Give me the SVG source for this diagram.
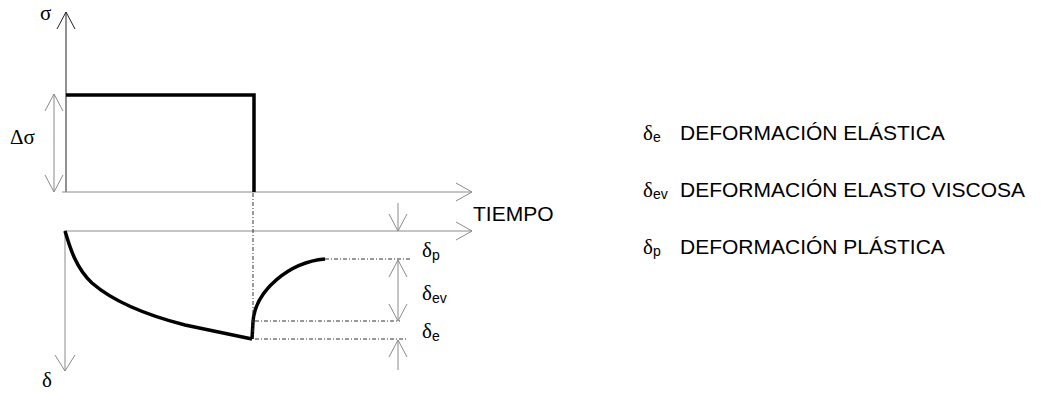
<svg xmlns="http://www.w3.org/2000/svg" width="1044" height="393" viewBox="0 0 1044 393">
  <style>
    .axis { stroke: #8a8a8a; stroke-width: 1; fill: none; }
    .dark { stroke: #222; stroke-width: 1; fill: none; }
    .thick { stroke: #000; stroke-width: 3.5; fill: none; stroke-linejoin: miter; }
    .guide { stroke: #333; stroke-width: 1; fill: none; stroke-dasharray: 4 2 1 2; }
    .greek { font-family: "Liberation Serif", "Times New Roman", serif; font-size: 21px; fill: #000; }
    .label { font-family: "Liberation Sans", Arial, sans-serif; font-size: 21px; fill: #000; }
    .sub { font-family: "Liberation Sans", Arial, sans-serif; font-size: 14px; }
  </style>
  <rect width="1044" height="393" fill="#fff"/>

  <!-- stress graph: axes -->
  <g id="stress-axes">
    <line class="dark" x1="66" y1="192" x2="66" y2="12"/>
    <polyline class="dark" points="57,29 66,12 75,29"/>
    <line class="axis" x1="62" y1="192" x2="472" y2="192"/>
    <polyline class="axis" points="456,183 472,192 456,201"/>
    <text class="greek" x="40" y="20">σ</text>
  </g>

  <!-- stress increment dimension -->
  <g id="delta-sigma">
    <line class="axis" x1="54" y1="94" x2="54" y2="192"/>
    <polyline class="axis" points="45,111 54,94 63,111"/>
    <polyline class="axis" points="45,175 54,192 63,175"/>
    <text class="greek" x="10" y="144">Δσ</text>
  </g>

  <!-- applied load step -->
  <g id="load-step">
    <polyline class="thick" points="66,95 254,95 254,192"/>
  </g>

  <!-- deformation graph: axes -->
  <g id="strain-axes">
    <line class="axis" x1="64" y1="231" x2="472" y2="231"/>
    <polyline class="axis" points="456,222 472,231 456,240"/>
    <line class="axis" x1="65" y1="231" x2="65" y2="371"/>
    <polyline class="axis" points="55,355 65,371 75,355"/>
    <text class="greek" x="42" y="387">δ</text>
    <text class="label" x="473" y="221">TIEMPO</text>
  </g>

  <!-- creep and recovery curves -->
  <g id="strain-curve">
    <path class="thick" d="M65,231 C70,248 76,268 92,283 C115,303 150,316 185,325 L252,339"/>
    <path class="thick" d="M252,339 L253,322 C255,290 290,262 325,259"/>
  </g>

  <!-- reference lines and dimensions -->
  <g id="connectors">
    <line class="guide" x1="253" y1="193" x2="253" y2="338"/>
    <line class="guide" x1="325" y1="259" x2="410" y2="259"/>
    <line class="guide" x1="255" y1="321" x2="400" y2="321"/>
    <line class="guide" x1="255" y1="339" x2="407" y2="339"/>

    <line class="axis" x1="398" y1="203" x2="398" y2="231"/>
    <polyline class="axis" points="389,214 398,231 407,214"/>

    <line class="axis" x1="398" y1="260" x2="398" y2="321"/>
    <polyline class="axis" points="389,277 398,260 407,277"/>
    <polyline class="axis" points="389,304 398,321 407,304"/>

    <line class="axis" x1="398" y1="340" x2="398" y2="370"/>
    <polyline class="axis" points="389,357 398,340 407,357"/>
  </g>

  <!-- dimension labels -->
  <g id="dim-labels">
    <text class="greek" x="422" y="257">δ<tspan class="sub" dy="3">p</tspan></text>
    <text class="greek" x="422" y="300">δ<tspan class="sub" dy="3">ev</tspan></text>
    <text class="greek" x="422" y="338">δ<tspan class="sub" dy="3">e</tspan></text>
  </g>

  <!-- legend -->
  <g id="legend">
    <text class="greek" x="643" y="140">δ<tspan class="sub" dy="2">e</tspan></text>
    <text class="label" x="680" y="140">DEFORMACIÓN ELÁSTICA</text>
    <text class="greek" x="643" y="197">δ<tspan class="sub" dy="2">ev</tspan></text>
    <text class="label" x="680" y="197">DEFORMACIÓN ELASTO VISCOSA</text>
    <text class="greek" x="643" y="254">δ<tspan class="sub" dy="2">p</tspan></text>
    <text class="label" x="680" y="254">DEFORMACIÓN PLÁSTICA</text>
  </g>
</svg>
